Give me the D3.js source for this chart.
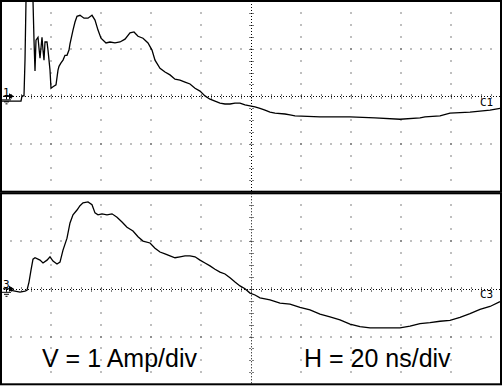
<!DOCTYPE html>
<html><head><meta charset="utf-8">
<script src="https://cdn.jsdelivr.net/npm/d3@7"></script>
<style>html,body{margin:0;padding:0;background:#fff}svg{display:block}</style>
</head><body>
<script>
// time in ns, current in A
const ch1Time = [0.4,8,8.4,9.2,9.6,10,12.8,13.2,13.6,14,14.8,15.2,15.6,16.4,16.8,17.2,17.6,18.4,18.8,19.6,20,20.8,22,22.8,23.2,24,24.8,25.6,26.4,27.2,27.6,28.8,29.6,30.4,31.6,33.2,34.8,36.4,37.6,38.8,40,42,43.6,45.6,47.6,49.6,51.6,53.2,54.8,56.8,58.8,60.4,61.6,63.6,65.6,67.6,69.6,71.6,73.6,75.6,77.6,79.6,81.6,83.6,85.6,87.6,89.6,91.6,93.6,95.6,97.6,99.6,101.6,103.6,105.6,107.6,109.6,113.6,115.6,117.6,127.6,139.6,149.6,159.6,167.6,169.6,175.6,179.6,187.6,195.6,199.6];
const ch1Amps = [-0.10,-0.10,0.01,0.01,0.76,2.0,2.0,1.18,0.53,1.18,1.24,1.01,0.80,1.24,0.97,0.76,1.14,1.14,0.97,0.55,0.17,0.20,0.24,0.55,0.63,0.70,0.76,0.86,0.86,0.97,1.10,1.39,1.56,1.68,1.70,1.64,1.64,1.70,1.60,1.39,1.22,1.12,1.14,1.12,1.14,1.20,1.33,1.35,1.26,1.22,1.12,0.97,0.76,0.59,0.51,0.45,0.36,0.34,0.30,0.26,0.17,0.11,0.01,-0.06,-0.10,-0.14,-0.16,-0.16,-0.14,-0.14,-0.18,-0.20,-0.22,-0.25,-0.29,-0.33,-0.35,-0.37,-0.39,-0.41,-0.43,-0.43,-0.45,-0.48,-0.45,-0.43,-0.41,-0.35,-0.33,-0.29,-0.25];
const ch3Time = [3.6,5.6,7.6,9.6,10.4,11.2,12,12.8,13.6,15.6,16.8,18.4,19.6,20.8,22.4,23.6,24.8,26.4,27.6,28.8,30.4,31.6,32.8,34.8,36.4,37.6,38.8,40.4,42.4,44.4,46.4,48.4,50.4,52.8,54.8,56.8,59.6,61.6,63.6,65.6,67.6,69.6,71.6,73.6,75.6,77.6,79.6,81.6,83.6,85.6,87.6,89.6,91.6,93.6,95.6,97.6,99.6,101.6,103.6,107.6,111.6,115.6,119.6,123.6,127.6,131.6,135.6,139.6,143.6,147.6,155.6,159.6,163.6,167.6,171.6,175.6,179.6,183.6,187.6,191.6,195.6,199.6];
const ch3Amps = [-0.03,-0.05,-0.07,-0.05,-0.03,0.14,0.39,0.62,0.65,0.60,0.54,0.60,0.67,0.58,0.52,0.56,0.81,1.06,1.38,1.55,1.65,1.74,1.80,1.82,1.76,1.59,1.55,1.57,1.55,1.57,1.50,1.40,1.29,1.21,1.09,1.00,0.96,0.85,0.77,0.73,0.69,0.65,0.67,0.69,0.69,0.67,0.60,0.54,0.48,0.41,0.35,0.31,0.23,0.14,0.06,0.00,-0.09,-0.13,-0.19,-0.23,-0.30,-0.32,-0.39,-0.44,-0.53,-0.59,-0.65,-0.74,-0.79,-0.82,-0.82,-0.82,-0.78,-0.73,-0.71,-0.68,-0.66,-0.60,-0.52,-0.43,-0.37,-0.27];
const channelLabels = ["1","3"];
const traceLabels = ["C1","C3"];
const scaleTexts = ["V = 1 Amp/div","H = 20 ns/div"];
const timeDomain = [0,200];
const ampDomain = [-2,2];

const W=503,H=387;
const svg=d3.select("body").append("svg").attr("width",W).attr("height",H);
const x=d3.scaleLinear().domain(timeDomain).range([1,501]);
const panels=[{top:1,bot:191.7},{top:193.3,bot:384.3}];
const series=[[ch1Time,ch1Amps],[ch3Time,ch3Amps]];

panels.forEach((p,i)=>{
  const y=d3.scaleLinear().domain(ampDomain).range([p.bot,p.top]);
  const g=svg.append("g");
  const clipId="clip"+i;
  svg.append("clipPath").attr("id",clipId).append("rect")
    .attr("x",1).attr("y",p.top).attr("width",500).attr("height",p.bot-p.top);
  // grid dots
  const dots=[];
  for(let t=20;t<200;t+=20){ if(t===100) continue;
    for(let a=-1.75;a<2;a+=0.25){ dots.push([x(t),y(a)]); } }
  [-1,1].forEach(a=>{ for(let t=4;t<200;t+=4){ dots.push([x(t),y(a)]); } });
  g.selectAll("rect.dot").data(dots).enter().append("rect").attr("class","dot")
    .attr("x",d=>Math.round(d[0])-0.5).attr("y",d=>Math.round(d[1])-0.5).attr("width",1).attr("height",1).attr("fill","#000");
  // center crosshair
  const cy=Math.round(y(0))+0.5, cx=Math.round(x(100))+0.5;
  g.append("line").attr("x1",x(0)).attr("x2",x(200)).attr("y1",cy).attr("y2",cy)
    .attr("stroke","#000").attr("stroke-width",1).attr("stroke-dasharray","1,2");
  g.append("line").attr("x1",cx).attr("x2",cx).attr("y1",p.top).attr("y2",p.bot)
    .attr("stroke","#000").attr("stroke-width",1).attr("stroke-dasharray","1,2");
  const tks=d3.range(4,200,4);
  g.selectAll("line.vt").data(tks).enter().append("line")
    .attr("x1",d=>Math.round(x(d))+0.5).attr("x2",d=>Math.round(x(d))+0.5)
    .attr("y1",cy-2).attr("y2",cy+2).attr("stroke","#000").attr("stroke-dasharray","1,2");
  const atk=d3.range(-1.75,2,0.25);
  g.selectAll("line.ht").data(atk).enter().append("line")
    .attr("y1",d=>Math.round(y(d))+0.5).attr("y2",d=>Math.round(y(d))+0.5)
    .attr("x1",cx-2).attr("x2",cx+2).attr("stroke","#000").attr("stroke-dasharray","1,2");
  // trace
  const [tt,aa]=series[i];
  const pts=tt.map((t,k)=>[t,aa[k]]);
  g.append("path").datum(pts).attr("clip-path","url(#"+clipId+")")
    .attr("d",d3.line().x(d=>x(d[0])).y(d=>y(d[1])))
    .attr("fill","none").attr("stroke","#000").attr("stroke-width",1.3);
  // border
  g.append("rect").attr("x",1).attr("y",p.top).attr("width",500).attr("height",p.bot-p.top)
    .attr("fill","none").attr("stroke","#000").attr("stroke-width",2);
  // channel marker
  const my=y(0);
  g.append("text").attr("x",3).attr("y",my-0.5).text(channelLabels[i])
    .attr("font-family","DejaVu Sans Mono, monospace").attr("font-size",11).attr("fill","#000");
  g.append("line").attr("x1",3).attr("x2",10).attr("y1",my).attr("y2",my).attr("stroke","#000").attr("stroke-width",1.2);
  g.append("path").attr("d",`M9,${my-3}L14,${my}L9,${my+3}Z`).attr("fill","#000");
  g.append("line").attr("x1",6.5).attr("x2",6.5).attr("y1",my).attr("y2",my+3).attr("stroke","#000");
  g.append("line").attr("x1",2).attr("x2",11).attr("y1",my+3.5).attr("y2",my+3.5).attr("stroke","#000");
  g.append("line").attr("x1",4).attr("x2",9).attr("y1",my+5.5).attr("y2",my+5.5).attr("stroke","#000");
  g.append("line").attr("x1",5.5).attr("x2",7.5).attr("y1",my+7.5).attr("y2",my+7.5).attr("stroke","#000");
  // trace label
  g.append("text").attr("x",480).attr("y",my+9.5).text(traceLabels[i])
    .attr("font-family","DejaVu Sans Mono, monospace").attr("font-size",11).attr("fill","#000");
});

svg.append("text").attr("x",42).attr("y",367).text(scaleTexts[0])
  .attr("font-family","Liberation Sans, Arial, sans-serif").attr("font-size",25).attr("fill","#000");
svg.append("text").attr("x",304).attr("y",367).text(scaleTexts[1])
  .attr("font-family","Liberation Sans, Arial, sans-serif").attr("font-size",25).attr("fill","#000");
</script>
</body></html>
